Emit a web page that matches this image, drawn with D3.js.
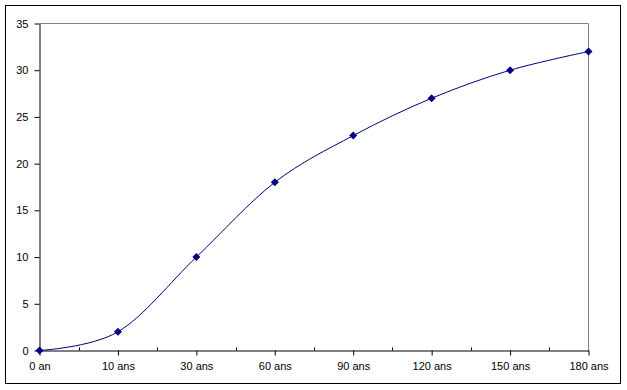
<!DOCTYPE html>
<html><head><meta charset="utf-8">
<script src="https://cdn.jsdelivr.net/npm/d3@7"></script>
<style>body{margin:0;background:#fff}svg{display:block}text{font-family:"Liberation Sans",Arial,sans-serif;font-size:11px;fill:#000}</style>
</head><body><svg id="c" width="627" height="390"></svg>
<script>
const categories = ["0 an","10 ans","30 ans","60 ans","90 ans","120 ans","150 ans","180 ans"];
const values = [0, 2, 10, 18, 23, 27, 30, 32];
const yTicks = [0,5,10,15,20,25,30,35];

const svg = d3.select("#c");
const W=627,H=390;
const m = {l:39.5, r:588.5, t:23.5, b:350.5};
svg.append("rect").attr("x",5.5).attr("y",5.5).attr("width",615).attr("height",378)
  .attr("fill","#fff").attr("stroke","#000").attr("stroke-width",1);

const x = d3.scalePoint().domain(categories).range([m.l,m.r]);
const y = d3.scaleLinear().domain([0,35]).range([m.b,m.t]);

// plot area border (top/right gray)
svg.append("path").attr("d",`M${m.l},${m.t}H${m.r}V${m.b}`).attr("fill","none").attr("stroke","#808080");

// y axis
const ya = svg.append("g").attr("transform",`translate(${m.l},0)`)
  .call(d3.axisLeft(y).tickValues(yTicks).tickSize(5).tickPadding(6).tickSizeOuter(0));
ya.select(".domain").attr("stroke","#000");
ya.selectAll("line").attr("stroke","#000");
ya.selectAll("text").style("font-size","11px").attr("font-family",null);

// x axis
const xa = svg.append("g").attr("transform",`translate(0,${m.b})`)
  .call(d3.axisBottom(x).tickSize(5).tickPadding(7).tickSizeOuter(0));
xa.select(".domain").attr("stroke","#000");
xa.selectAll("line").attr("stroke","#000");
xa.selectAll("text").style("font-size","11px").attr("font-family",null);
// minor ticks between categories
const mids = categories.slice(1).map((c,i)=> (x(categories[i])+x(c))/2);
svg.append("g").selectAll("line").data(mids).join("line")
  .attr("x1",d=>Math.round(d)+0.5).attr("x2",d=>Math.round(d)+0.5)
  .attr("y1",m.b).attr("y2",m.b-3).attr("stroke","#000");

// line
const line = d3.line().x((d,i)=>x(categories[i])).y(d=>y(d)).curve(d3.curveCatmullRom.alpha(0));
svg.append("path").datum(values).attr("d",line).attr("fill","none").attr("stroke","#000080").attr("stroke-width",1);

// markers
svg.append("g").selectAll("path").data(values).join("path")
  .attr("transform",(d,i)=>`translate(${x(categories[i])},${y(d)})`)
  .attr("d","M0,-4L4,0L0,4L-4,0Z").attr("fill","#000080");
</script></body></html>
